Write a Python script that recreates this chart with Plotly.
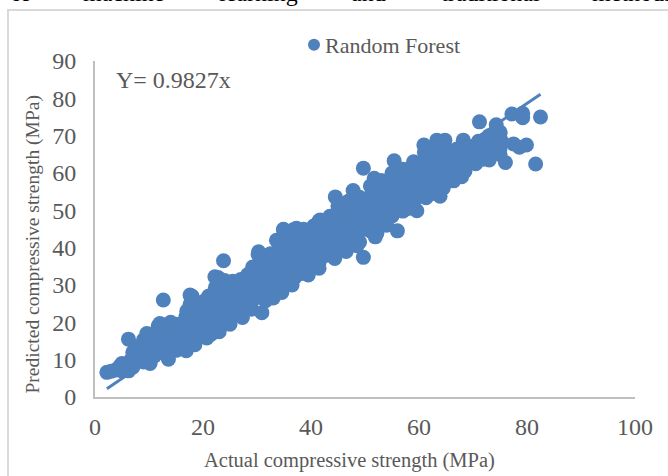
import plotly.graph_objects as go

actual = [2.2,3.0,3.8,4.6,5.2,5.8,6.2,6.6,7.0,7.4,7.8,8.2,8.6,9.0,9.4,9.8,10.3,10.8,11.2,11.7,12.0,12.65,12.4,13.0,13.4,13.8,14.2,14.7,15.0,15.4,15.9,16.3,16.8,17.2,17.6,18.0,18.4,18.8,19.2,19.7,20.1,20.6,21.0,21.4,21.9,22.3,22.8,23.8,22.2,23.0,23.6,24.0,24.5,25.0,25.5,26.0,26.5,27.0,27.4,27.9,28.3,28.8,29.2,29.7,30.2,30.9,30.6,31.1,31.6,32.0,32.5,33.0,33.5,34.0,34.4,34.9,35.3,35.8,36.2,36.7,37.1,37.6,38.0,38.6,39.0,39.5,40.0,40.5,41.0,41.5,42.0,42.5,43.0,43.5,44.0,44.5,45.0,45.5,46.0,46.5,47.0,47.8,48.3,48.8,49.7,49.7,50.2,50.7,51.2,51.7,52.2,52.7,53.2,53.7,54.2,54.7,55.4,56.0,55.8,56.4,57.0,57.5,58.0,58.5,59.0,59.6,60.0,60.9,61.3,62.0,62.6,63.3,63.9,64.8,65.2,65.8,66.4,67.0,67.9,68.2,69.0,69.6,70.2,71.2,71.9,72.4,73.0,73.6,74.3,74.8,75.3,76.0,77.2,78.6,79.2,79.2,79.9,81.6,82.5,
          8.5,10.0,11.5,13.5,15.5,17.5,19.5,21.5,23.5,25.5,27.5,29.5,31.5,33.5,35.5,37.5,39.5,41.5,43.5,45.5,47.5,49.5,51.5,53.5,55.5,57.5,59.5,61.5,63.5,65.5,67.5,
          9.0,11.0,13.0,15.0,17.0,19.0,21.0,23.0,25.0,27.0,29.0,31.0,33.0,35.0,37.0,39.0,41.0,43.0,45.0,47.0,49.0,51.0,53.0,55.0,57.0,59.0,61.0,63.0,65.0,67.0,69.0,71.0,73.0,75.0,
          5,5,7,7,7,9,9,9,11,11,11,11,13,13,13,13,15,15,15,15,17,17,17,17,19,19,19,19,21,21,21,21,23,23,23,23,25,25,25,25,27,27,27,27,29,29,29,29,31,31,31,31,33,33,33,33,
          35,35,35,35,35,37,37,37,37,37,39,39,39,39,39,41,41,41,41,43,43,43,43,45,45,45,45,45,47,47,47,47,47,49,49,49,49,49,51,51,51,51,51,53,53,53,53,53,55,55,55,55,55,57,57,57,57,57,59,59,59,59,59,61,61,61,61,61,63,63,63,63,63,65,65,65,65,67,67,67,69,69,69,71,71,71,73,73,73,75,75,75,77.5,
          6.2,10.2,13.6,16.9,18.5,20.7,23.0,25.0,27.3,29.0,33.0,34.6,36.5,39.5,41.5,44.4,46.5,48.5,51.9,54.0,58.0,60.8,62.5,64.5,66.0,68.5,70.5,73.0,75.0,
          9.6,12.0,14.0,17.6,22.2,30.3,33.6,34.9,37.3,38.6,41.7]
predicted = [6.6,6.9,7.2,8.3,8.6,7.6,15.5,9.8,9.4,11.6,10.7,13.6,12.6,15.3,14.1,11.6,10.8,14.6,12.6,19.0,16.8,26.0,19.4,15.5,13.0,11.8,17.6,19.0,13.4,15.0,18.2,14.8,21.4,16.4,24.8,27.0,20.2,15.8,23.0,17.4,25.6,18.0,22.4,27.2,19.4,29.4,32.0,36.5,24.4,20.6,27.8,31.2,21.6,26.2,31.0,23.4,29.0,23.2,31.0,25.6,32.8,27.4,34.8,30.0,38.2,22.6,28.4,37.8,25.8,33.2,38.4,29.0,36.0,41.2,30.2,44.8,33.6,41.4,30.8,44.8,37.4,43.8,33.0,44.2,36.2,42.2,38.2,45.8,37.6,47.2,40.2,44.0,38.8,48.4,43.2,53.6,40.6,51.4,42.4,52.0,45.0,55.3,43.0,50.4,61.3,37.4,47.6,53.4,46.2,58.6,43.8,54.6,49.0,57.6,47.6,53.6,63.3,44.5,52.0,58.4,49.8,60.6,52.6,61.4,55.0,49.9,58.2,67.5,53.4,64.0,56.8,68.8,53.8,68.8,60.2,65.0,57.9,63.4,59.0,68.8,62.6,67.0,64.2,73.7,63.7,68.0,65.6,70.0,72.9,66.2,68.4,62.8,75.8,66.9,76.0,74.8,67.5,62.4,75.0,
            11.0,12.4,15.0,12.2,12.8,20.6,16.8,16.8,23.2,22.0,25.0,29.0,28.2,31.6,34.8,36.6,34.6,36.0,46.0,40.8,43.8,48.8,48.4,52.4,51.6,55.2,56.8,58.4,60.8,62.4,66.0,
            9.4,12.0,16.4,17.4,18.2,22.0,24.0,27.6,28.4,27.8,30.8,34.0,35.0,37.0,38.2,41.0,42.4,45.4,47.0,49.6,50.6,52.6,54.0,56.6,57.0,59.8,62.2,64.4,64.6,66.4,66.2,67.6,68.8,70.6,
            7,9,8,10,12,9.5,11,13,11,13,15,17,11.5,14,16,18,12.5,15,17,19.5,14,17,20,23,16,19,22,25,17.5,20.5,24,27,20,23,26,29,21.5,24.5,27.5,30,23.5,26.5,29.5,31.5,25.5,28.5,31.5,33.5,26.5,29.5,32.5,35.5,28.5,31.5,34.5,38,
            30,33,36,39.5,42,32,35,38,41,43.5,33.5,36.5,39.5,42.5,44,36,39,42,45,38,41,44,47,39.5,42.5,45.5,49,51,41,44,47,50,52.5,41.5,44.5,47.5,50.5,53.5,44.5,47.5,50.5,53.5,56.5,46,49,52,55,58,48.5,51.5,54.5,57.5,60,50,53,56,59,61,52,55,58,60.5,63,54.5,57.5,60.5,63.5,65.5,56,59,62,65,67,58,61,64,66.5,60.5,63.5,66,62.5,65,67,64,66.5,68.5,65.5,68,70,66.5,69,71,67.8,
            7.0,9.0,10.1,12.4,14.0,15.8,17.5,19.5,21.3,23.5,26.5,28.0,30.0,32.7,34.5,37.1,39.0,40.5,42.9,46.0,50.5,53.7,54.5,56.0,58.5,60.5,62.5,63.5,65.0,
            17.0,19.7,20.0,27.3,32.2,38.9,42.0,44.9,45.2,44.9,47.4]
fit_x = [2.2, 82.5]
fit_y = [2.2, 81.1]
series_name = "Random Forest"
equation = "Y= 0.9827x"
x_ticks = [0, 20, 40, 60, 80, 100]
y_ticks = [0, 10, 20, 30, 40, 50, 60, 70, 80, 90]
x_title = "Actual compressive strength (MPa)"
y_title = "Predicted compressive strength (MPa)"
top_words = ["of", "machine", "learning", "and", "traditional", "methods."]
top_word_left_px = [8, 81, 217, 349, 439, 590]

BLUE = "#4F81BD"
GREY = "#595959"
AXIS = "#BFBFBF"
FONT = "Liberation Serif"
W, H = 668, 476
L, R, T, B = 95, 635, 61, 397
pw, ph = R - L, B - T

fig = go.Figure()
fig.add_trace(go.Scatter(x=fit_x, y=fit_y, mode="lines", showlegend=False,
                         line=dict(color=BLUE, width=3)))
fig.add_trace(go.Scatter(x=actual, y=predicted, mode="markers", name=series_name,
                         marker=dict(color=BLUE, size=15, line=dict(width=0))))

fig.update_layout(
    width=W, height=H, margin=dict(l=L, r=W - R, t=T, b=H - B),
    paper_bgcolor="white", plot_bgcolor="white",
    font=dict(family=FONT, color=GREY),
    legend=dict(x=(285 - L) / pw, y=(T - 45) / ph + 1, xanchor="left", yanchor="middle",
                font=dict(size=22, color=GREY), bgcolor="rgba(0,0,0,0)",
                itemsizing="constant", itemwidth=30),
    xaxis=dict(range=[0, 100], tickvals=x_ticks, showgrid=False, zeroline=False,
               showline=True, linecolor=AXIS, linewidth=2, ticks="", ticklabelstandoff=7,
               tickfont=dict(size=24, color=GREY)),
    yaxis=dict(range=[0, 90], tickvals=y_ticks, showgrid=False, zeroline=False,
               showline=True, linecolor=AXIS, linewidth=2, ticks="", ticklabelstandoff=12,
               tickfont=dict(size=24, color=GREY)),
)

# axis titles sit off-centre in the reference, so they are placed as annotations
fig.add_annotation(text=x_title, xref="paper", yref="paper", x=(349.5 - L) / pw,
                   y=(B - 460) / ph, xanchor="center", yanchor="middle", showarrow=False,
                   font=dict(size=20.5, color=GREY, family=FONT))
fig.add_annotation(text=y_title, xref="paper", yref="paper", x=(33 - L) / pw,
                   y=(B - 244.5) / ph, xanchor="center", yanchor="middle", showarrow=False,
                   textangle=-90, font=dict(size=19.5, color=GREY, family=FONT))
fig.add_annotation(text=equation, xref="paper", yref="paper", x=(114 - L) / pw,
                   y=(B - 80) / ph, xanchor="left", yanchor="middle", showarrow=False,
                   font=dict(size=24, color=GREY, family=FONT))
for word, left in zip(top_words, top_word_left_px):
    fig.add_annotation(text=word, xref="paper", yref="paper", x=(left - L) / pw,
                       y=(B - 8) / ph, xanchor="left", yanchor="bottom", showarrow=False,
                       font=dict(size=24, color="black", family=FONT))

# outer chart frame (left and top edges are inside the crop)
fig.add_shape(type="path", xref="paper", yref="paper",
              path=f"M {(8 - L) / pw} {(B - H) / ph} L {(8 - L) / pw} {(B - 10) / ph} L {(W - L) / pw} {(B - 10) / ph}",
              line=dict(color="#D9D9D9", width=2))

fig.write_html("out.html", config={"displayModeBar": False},
               post_script="document.body.style.margin='0';document.body.style.overflow='hidden';"
                           "document.querySelectorAll('.legendsymbols').forEach(function(e){e.setAttribute('transform','translate(9,0)');});")
